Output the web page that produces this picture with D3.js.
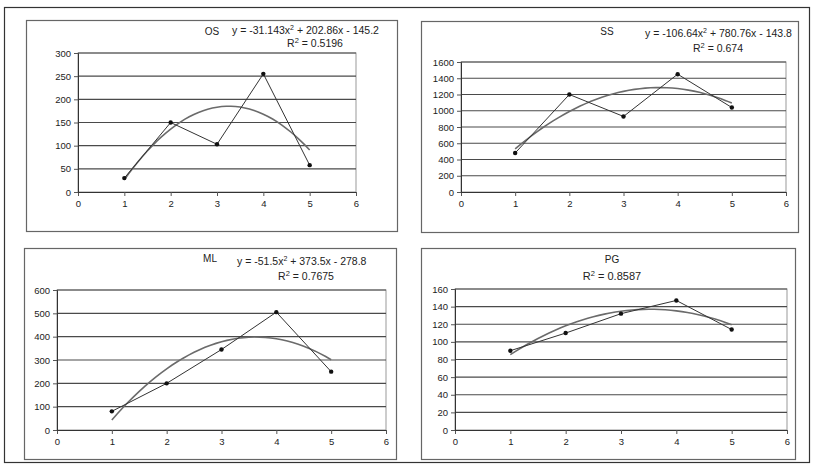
<!DOCTYPE html>
<html>
<head>
<meta charset="utf-8">
<script src="https://cdn.jsdelivr.net/npm/d3@7"></script>
<style>
  body { margin: 0; background: #fff; }
  svg { display: block; font-family: "Liberation Sans", Arial, sans-serif; }
  .tick text { fill: #222; }
</style>
</head>
<body>
<svg id="chart" width="814" height="467"></svg>
<script>
// values
const xs = [1, 2, 3, 4, 5];
const xTicks = [0, 1, 2, 3, 4, 5, 6];

const osValues = [30, 150, 103, 255, 58];
const ssValues = [480, 1200, 930, 1450, 1040];
const mlValues = [80, 200, 345, 505, 250];
const pgValues = [90, 110, 132, 147, 114];

const osTicks = [0, 50, 100, 150, 200, 250, 300];
const ssTicks = [0, 200, 400, 600, 800, 1000, 1200, 1400, 1600];
const mlTicks = [0, 100, 200, 300, 400, 500, 600];
const pgTicks = [0, 20, 40, 60, 80, 100, 120, 140, 160];

// printed trendline coefficients (a x^2 + b x + c)
const osFit = [-31.143, 202.86, -145.2];
const ssFit = [-106.64, 780.76, -143.8];
const mlFit = [-51.5, 373.5, -278.8];

// least squares quadratic, used where no equation is printed (PG)
function quadFit(x, y) {
  let s = [0, 0, 0, 0, 0], t = [0, 0, 0];
  x.forEach((xi, i) => {
    for (let k = 0; k < 5; k++) s[k] += Math.pow(xi, k);
    for (let k = 0; k < 3; k++) t[k] += Math.pow(xi, k) * y[i];
  });
  // normal equations for [c, b, a]
  const m = [[s[0], s[1], s[2], t[0]], [s[1], s[2], s[3], t[1]], [s[2], s[3], s[4], t[2]]];
  for (let i = 0; i < 3; i++) {
    for (let j = i + 1; j < 3; j++) {
      const f = m[j][i] / m[i][i];
      for (let k = i; k < 4; k++) m[j][k] -= f * m[i][k];
    }
  }
  const r = [0, 0, 0];
  for (let i = 2; i >= 0; i--) {
    let v = m[i][3];
    for (let k = i + 1; k < 3; k++) v -= m[i][k] * r[k];
    r[i] = v / m[i][i];
  }
  return [r[2], r[1], r[0]];
}
const pgFit = quadFit(xs, pgValues);

const svg = d3.select('#chart');

// outer scan frame
svg.append('rect').attr('x', 4.5).attr('y', 7.5).attr('width', 805).attr('height', 455)
  .attr('fill', 'none').attr('stroke', '#333').attr('stroke-width', 1.2);

const panels = [
  { name: 'OS', values: osValues, fit: osFit, yTicks: osTicks, box: [26, 20, 371, 211],
    plot: [78, 53, 356, 192], title: [212, 35], eq: [232, 34], r2: [315, 47],
    eqText: ['y = -31.143x', ' + 202.86x - 145.2'], r2Text: '0.5196', r2Size: 10.5 },
  { name: 'SS', values: ssValues, fit: ssFit, yTicks: ssTicks, box: [421, 21, 377, 211],
    plot: [461, 62, 786, 192], title: [607, 35], eq: [645, 37], r2: [718, 52],
    eqText: ['y = -106.64x', ' + 780.76x - 143.8'], r2Text: '0.674', r2Size: 10.5 },
  { name: 'ML', values: mlValues, fit: mlFit, yTicks: mlTicks, box: [24, 248, 372, 211],
    plot: [57, 290, 386, 430], title: [210, 262], eq: [237, 265], r2: [306, 280],
    eqText: ['y = -51.5x', ' + 373.5x - 278.8'], r2Text: '0.7675', r2Size: 10.5 },
  { name: 'PG', values: pgValues, fit: pgFit, yTicks: pgTicks, box: [421, 248, 374, 211],
    plot: [455, 289, 787, 430], title: [612, 263], eq: null, r2: [612, 280],
    eqText: null, r2Text: '0.8587', r2Size: 11 }
];

panels.forEach(p => {
  const g = svg.append('g');
  g.append('rect').attr('x', p.box[0] + 0.5).attr('y', p.box[1] + 0.5)
    .attr('width', p.box[2]).attr('height', p.box[3])
    .attr('fill', '#fff').attr('stroke', '#666').attr('stroke-width', 1.2);

  const yMax = p.yTicks[p.yTicks.length - 1];
  const x = d3.scaleLinear().domain([0, 6]).range([p.plot[0], p.plot[2]]);
  const y = d3.scaleLinear().domain([0, yMax]).range([p.plot[3], p.plot[1]]);

  // plot area border
  g.append('rect').attr('x', p.plot[0]).attr('y', p.plot[1])
    .attr('width', p.plot[2] - p.plot[0]).attr('height', p.plot[3] - p.plot[1])
    .attr('fill', 'none').attr('stroke', '#999').attr('stroke-width', 1);

  // gridlines
  g.selectAll('.grid').data(p.yTicks.slice(1)).enter().append('line')
    .attr('x1', p.plot[0]).attr('x2', p.plot[2])
    .attr('y1', d => y(d)).attr('y2', d => y(d))
    .attr('stroke', '#4a4a4a').attr('stroke-width', 1.1);

  const xAxis = g.append('g').attr('transform', `translate(0,${p.plot[3]})`)
    .call(d3.axisBottom(x).tickValues(xTicks).tickSize(4).tickPadding(4).tickFormat(d3.format('d')));
  const yAxis = g.append('g').attr('transform', `translate(${p.plot[0]},0)`)
    .call(d3.axisLeft(y).tickValues(p.yTicks).tickSize(4).tickPadding(3).tickFormat(d3.format('d')));
  [xAxis, yAxis].forEach(a => {
    a.select('.domain').attr('stroke', '#333');
    a.selectAll('.tick line').attr('stroke', '#555');
    a.selectAll('text').attr('font-size', 9.5).attr('font-family', '"Liberation Sans", Arial, sans-serif');
  });

  // trendline
  const poly = t => p.fit[0] * t * t + p.fit[1] * t + p.fit[2];
  const tSamples = d3.range(xs[0], xs[xs.length - 1] + 0.001, 0.1);
  g.append('path').datum(tSamples)
    .attr('d', d3.line().x(t => x(t)).y(t => y(poly(t))))
    .attr('fill', 'none').attr('stroke', '#6b6b6b').attr('stroke-width', 1.6);

  // data line
  const pts = xs.map((d, i) => [d, p.values[i]]);
  g.append('path').datum(pts)
    .attr('d', d3.line().x(d => x(d[0])).y(d => y(d[1])))
    .attr('fill', 'none').attr('stroke', '#333').attr('stroke-width', 1);
  g.selectAll('.pt').data(pts).enter().append('circle')
    .attr('cx', d => x(d[0])).attr('cy', d => y(d[1])).attr('r', 2.2).attr('fill', '#111');

  // title and equation texts
  g.append('text').attr('x', p.title[0]).attr('y', p.title[1]).attr('text-anchor', 'middle')
    .attr('font-size', 10).attr('fill', '#222').text(p.name);
  if (p.eqText) {
    const eq = g.append('text').attr('x', p.eq[0]).attr('y', p.eq[1])
      .attr('font-size', 10.5).attr('fill', '#222');
    eq.append('tspan').text(p.eqText[0]);
    eq.append('tspan').attr('dy', -4).attr('font-size', 7).text('2');
    eq.append('tspan').attr('dy', 4).text(p.eqText[1]);
  }
  const r2 = g.append('text').attr('x', p.r2[0]).attr('y', p.r2[1]).attr('text-anchor', 'middle')
    .attr('font-size', p.r2Size).attr('fill', '#222');
  r2.append('tspan').text('R');
  r2.append('tspan').attr('dy', -4).attr('font-size', 7.5).text('2');
  r2.append('tspan').attr('dy', 4).text(' = ' + p.r2Text);
});
</script>
</body>
</html>
